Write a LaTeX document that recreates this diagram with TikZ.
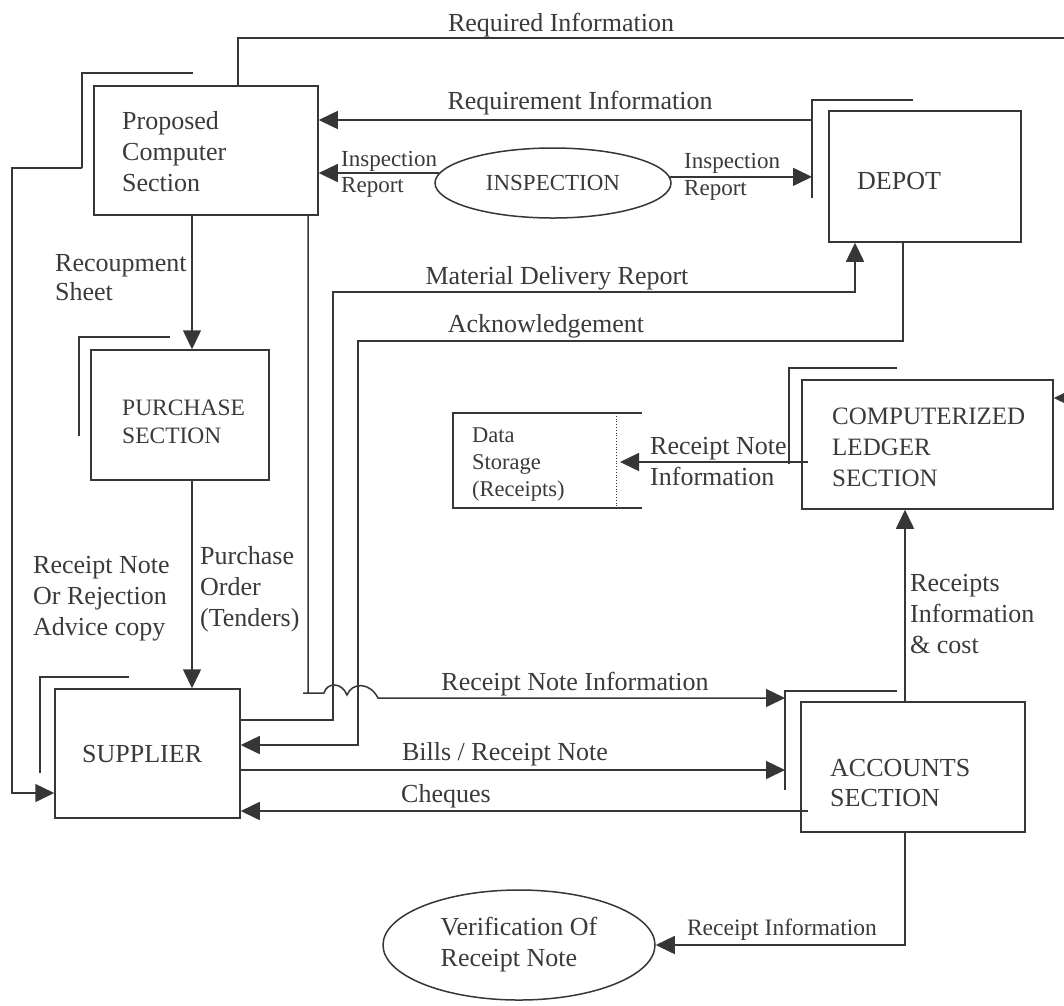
\documentclass[tikz,border=0pt]{standalone}
\usepackage{fontspec}
\setmainfont{Liberation Serif}
\usetikzlibrary{arrows.meta,shapes.geometric}
\definecolor{ink}{HTML}{363636}
\definecolor{txtc}{HTML}{3A3A3A}
\begin{document}
\begin{tikzpicture}[x=1pt,y=-1pt,
  line/.style={draw=ink,line width=1.5pt},
  arr/.style={line,-{Triangle[length=19pt,width=18pt]}},
  entity/.style n args={2}{line,rectangle,inner sep=0pt,minimum width=#1pt,minimum height=#2pt},
  process/.style n args={2}{line,ellipse,inner sep=0pt,minimum width=#1pt,minimum height=#2pt,
    text=txtc,align=left},
  lbl/.style={inner sep=0pt,text=txtc,align=left,font=\fontsize{26}{31}\selectfont},
  slbl/.style={inner sep=0pt,text=txtc,align=left,font=\fontsize{23.5}{27}\selectfont}]
\useasboundingbox[fill=white] (0,0) rectangle (1064,1005);

% ---- external entities and sections ----
\node[entity={224}{129}] (pcs) at (206,150.5) {};
\node[entity={178}{130}] (pur) at (180,415) {};
\node[entity={185}{129}] (sup) at (147.5,753.5) {};
\node[entity={192}{131}] (dep) at (925,176.5) {};
\node[entity={251}{129}] (led) at (927.5,444.5) {};
\node[entity={224}{130}] (acc) at (913,767) {};

\node[lbl,anchor=west] (pcsT) at (122,152) {Proposed\\Computer\\Section};
\node[slbl,anchor=west,font=\fontsize{23.5}{28}\selectfont] (purT) at (122,422) {PURCHASE\\SECTION};
\node[lbl,anchor=west] (supT) at (82,754) {SUPPLIER};
\node[lbl,anchor=west] (depT) at (857,181) {DEPOT};
\node[lbl,anchor=west,font=\fontsize{25}{31}\selectfont] (ledT) at (832,447) {COMPUTERIZED\\LEDGER\\SECTION};
\node[lbl,anchor=west,font=\fontsize{26}{30}\selectfont] (accT) at (830,783) {ACCOUNTS\\SECTION};

% ---- processes ----
\node[process={236}{70},font=\fontsize{23}{27}\selectfont] (insp) at (553,183) {INSPECTION};
\node[process={272}{110},font=\fontsize{26}{31}\selectfont] (ver) at (519,945) {Verification Of\\Receipt Note};

% ---- data store ----
\coordinate (dsTL) at (453,413);
\coordinate (dsBL) at (453,508);
\draw[line] (642,413) -- (dsTL) -- (dsBL) -- (642,508);
\draw[line,line width=0.8pt,dotted] (616,413) -- (616,508);
\node[slbl,anchor=west,font=\fontsize{22.5}{27}\selectfont] (dsT) at (472,465) {Data\\Storage\\(Receipts)};
\coordinate (dsR) at (620,462);

% ---- shadow corners of the entities ----
\coordinate (pcsS) at (82,73);
\coordinate (purS) at (79,337);
\coordinate (supS) at (40,677);
\coordinate (depS) at (812,100);
\coordinate (ledS) at (789,368);
\coordinate (accS) at (785,691);
\draw[line] (193,73) -- (pcsS) -- (82,168);
\draw[line] (170,337) -- (purS) -- (79,436);
\draw[line] (129,677) -- (supS) -- (40,773);
\draw[line] (913,100) -- (depS) -- (812,198);
\draw[line] (897,368) -- (ledS) -- (789,464);
\draw[line] (897,691) -- (accS) -- (785,790);

% ---- data flows ----
% required information, running off the right edge and back into the ledger
\coordinate (rtop) at (1064,38);
\coordinate (rin) at (1064,398);
\draw[line] ([xshift=32pt]pcs.north) |- (rtop);
\draw[arr] (rin) -- (rin -| led.east);
\node[lbl] (l1) at (561,25) {Required Information};

% requirement information
\coordinate (reqS) at (812,120);
\draw[arr] (reqS) -- (reqS -| pcs.east);
\node[lbl] (l2) at (580,103) {Requirement Information};

% inspection reports
\draw[arr] (insp.175) -- (insp.175 -| pcs.east);
\node[slbl,anchor=west,font=\fontsize{23}{26}\selectfont] (l3) at (341,174) {Inspection\\Report};
\draw[arr] (insp.3) -- (insp.3 -| depS);
\node[slbl,anchor=west,font=\fontsize{23}{27}\selectfont] (l4) at (684,177) {Inspection\\Report};

% recoupment sheet
\draw[arr] ([xshift=-14pt]pcs.south) -- ([xshift=-14pt]pcs.south |- pur.north);
\node[lbl,anchor=west,font=\fontsize{26}{29}\selectfont] (l5) at (55,278) {Recoupment\\Sheet};

% purchase order
\draw[arr] ([xshift=12pt]pur.south) -- ([xshift=12pt]pur.south |- sup.north);
\node[lbl,anchor=west] (l6) at (200,589) {Purchase\\Order\\(Tenders)};

% receipt note / rejection advice copy
\coordinate (lft) at (12,168);
\draw[arr] (82,168) -- (lft) |- ([yshift=-39.5pt]sup.west);
\node[lbl,anchor=west] (l7) at (33,599) {Receipt Note\\Or Rejection\\Advice copy};

% material delivery report
\coordinate (mdr) at (333,292);
\draw[arr] ([yshift=33.5pt]sup.east) -| (mdr) -| ([xshift=-70pt]dep.south);
\node[lbl] (l8) at (557,278) {Material Delivery Report};

% acknowledgement
\coordinate (ack) at (358,341);
\draw[arr] ([xshift=-22pt]dep.south) |- (ack) |- ([yshift=8.5pt]sup.east);
\node[lbl] (l9) at (546,326) {Acknowledgement};

% receipt note information, hopping over the two crossing flows
\coordinate (hop0) at (308,693);
\coordinate (hop2) at (378,698);
\draw[arr] ([xshift=102pt]pcs.south) -- (hop0) -- (303,693) -- (324,693)
  .. controls (327,682) and (342,682) .. (347,695)
  .. controls (352,682) and (370,682) .. (hop2) -- (hop2 -| accS);
\node[lbl] (l10) at (575,684) {Receipt Note Information};

% bills and cheques
\draw[arr] ([yshift=-16.5pt]sup.east) -- ([yshift=-16.5pt]sup.east -| accS);
\node[lbl] (l11) at (505,754) {Bills / Receipt Note};
\coordinate (chq) at (808,811);
\draw[arr] (chq) -- (chq -| sup.east);
\node[lbl] (l12) at (446,796) {Cheques};

% receipts information and cost
\draw[arr] ([xshift=-8pt]acc.north) -- ([xshift=-8pt]acc.north |- led.south);
\node[lbl,anchor=west] (l13) at (910,614) {Receipts\\Information\\\& cost};

% receipt note information to storage
\coordinate (rns) at (808,462);
\draw[arr] (rns) -- (rns -| dsR);
\node[lbl,anchor=west] (l14) at (650,462) {Receipt Note\\Information};

% receipt information to verification
\draw[arr] ([xshift=-8pt]acc.south) |- (ver.east);
\node[slbl] (l15) at (782,930) {Receipt Information};
\end{tikzpicture}
\end{document}
